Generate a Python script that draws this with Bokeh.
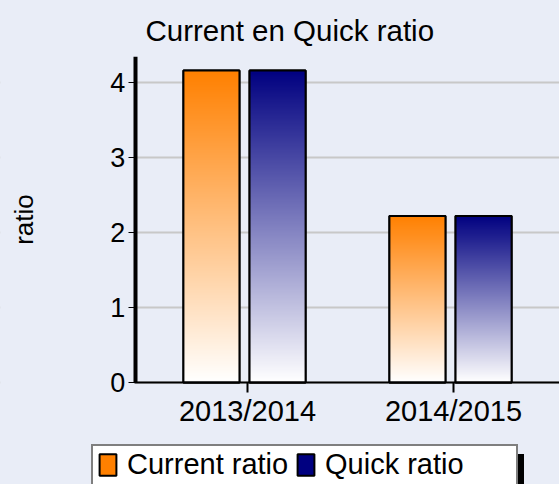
import numpy as np
from bokeh.plotting import figure
from bokeh.models import (Range1d, FixedTicker, Legend, LegendItem, BoxAnnotation,
                          GlobalInlineStyleSheet)
from bokeh.embed import file_html
from bokeh.resources import INLINE

# ---- data ----
periods = ["2013/2014", "2014/2015"]
current_ratio = [4.16, 2.22]
quick_ratio = [4.16, 2.22]
series_names = ["Current ratio", "Quick ratio"]
series_values = [current_ratio, quick_ratio]
series_colors = ["#ff8000", "#000080"]
y_ticks = [0, 1, 2, 3, 4]

BG = "#e9edf7"
FONT = "Liberation Sans"

# plot area layout (data units): axes are fixed inside a full-canvas frame
Y_TOP = 4.347
X_AXIS_START = -0.5485
X_END = 1.5146

p = figure(width=559, height=484, output_backend="svg", toolbar_location=None,
           x_range=Range1d(-1.199, X_END), y_range=Range1d(-1.36, Y_TOP),
           min_border_left=0, min_border_right=0, min_border_top=56, min_border_bottom=0,
           background_fill_color=BG, border_fill_color=BG, outline_line_color=None)
p.stylesheets = [GlobalInlineStyleSheet(css="html, body { background-color: %s; }" % BG)]

# title
p.title.text = "Current en Quick ratio"
p.title.text_font = FONT
p.title.text_font_size = "29.5px"
p.title.text_font_style = "normal"
p.title.text_color = "black"
p.title.align = "left"
p.title.offset = 145
p.title.standoff = 20

# grid (only right of the y axis)
p.xgrid.visible = False
p.ygrid.grid_line_color = "#c8c8c8"
p.ygrid.grid_line_width = 2
p.ygrid.ticker = FixedTicker(ticks=y_ticks)
p.add_layout(BoxAnnotation(right=X_AXIS_START + 0.004, fill_color=BG, fill_alpha=1,
                           line_color=None, level="underlay"))

# y axis
yax = p.yaxis[0]
yax.fixed_location = X_AXIS_START + 0.004
yax.bounds = (0, Y_TOP)
yax.ticker = FixedTicker(ticks=y_ticks)
yax.axis_line_width = 4
yax.axis_line_color = "black"
yax.major_tick_out = 7
yax.major_tick_in = 0
yax.minor_tick_line_color = None
yax.major_tick_line_color = "black"
yax.major_tick_line_width = 1
yax.major_label_text_font = FONT
yax.major_label_text_font_size = "27px"
yax.major_label_text_color = "black"
yax.major_label_standoff = 3
yax.axis_label = "ratio"
yax.axis_label_text_font = FONT
yax.axis_label_text_font_size = "26px"
yax.axis_label_text_font_style = "normal"
yax.axis_label_text_color = "black"
yax.axis_label_standoff = 68

# x axis
x_idx = np.arange(len(periods))
xax = p.xaxis[0]
xax.fixed_location = 0
xax.bounds = (X_AXIS_START, X_END)
xax.ticker = FixedTicker(ticks=list(x_idx))
xax.major_label_overrides = {int(i): name for i, name in zip(x_idx, periods)}
xax.axis_line_width = 2
xax.axis_line_color = "black"
xax.major_tick_out = 10
xax.major_tick_in = 0
xax.major_tick_line_width = 2
xax.minor_tick_line_color = None
xax.major_label_text_font = FONT
xax.major_label_text_font_size = "29px"
xax.major_label_text_color = "black"
xax.major_label_standoff = 2

# bars (gradient from colour at top to white at bottom)
offsets = [-0.175, 0.146]
bar_w = 0.272


def gradient(hexcol, n=256):
    c = np.array([int(hexcol[i:i + 2], 16) for i in (1, 3, 5)], dtype=float)
    t = np.linspace(0, 1, n)[:, None]
    rgb = 255 * (1 - t) + c[None, :] * t
    img = np.empty((n, 1), dtype=np.uint32)
    view = img.view(dtype=np.uint8).reshape((n, 1, 4))
    view[:, 0, 0:3] = np.round(rgb).astype(np.uint8)
    view[:, 0, 3] = 255
    return img


legend_renderers = []
bars = []
for name, vals, col, off in zip(series_names, series_values, series_colors, offsets):
    lefts = list(x_idx + off - bar_w / 2)
    rights = list(x_idx + off + bar_w / 2)
    r = p.quad(left=lefts, right=rights, bottom=0, top=vals, fill_color=col,
               line_color="black", line_width=2)
    legend_renderers.append(r)
    bars.append((lefts, rights, vals, col))

for lefts, rights, vals, col in bars:
    img = gradient(col)
    p.image_rgba(image=[img] * len(vals), x=lefts, y=[0] * len(vals),
                 dw=[bar_w] * len(vals), dh=vals)

blank = None
for lefts, rights, vals, col in bars:
    p.quad(left=lefts, right=rights, bottom=0, top=vals, fill_alpha=0,
           line_color="black", line_width=2)
    if blank is None:
        # invisible renderer used only for the legend's box and shadow
        blank = p.quad(left=lefts, right=rights, bottom=0, top=vals,
                       fill_alpha=0, line_alpha=0)

box_kw = dict(orientation="horizontal", label_text_font=FONT, label_text_font_size="10px",
              glyph_width=1, glyph_height=50, label_standoff=0, label_width=422,
              label_height=50, spacing=0, padding=0, margin=0)

# legend drop shadow
shadow = Legend(items=[LegendItem(label="", renderers=[blank])], location=(99, -22),
                label_text_color="black", border_line_color="black", border_line_width=1,
                background_fill_color="black", background_fill_alpha=1, **box_kw)
p.add_layout(shadow)

# legend box
frame = Legend(items=[LegendItem(label="", renderers=[blank])], location=(91, -14),
               label_text_color="white", border_line_color="black", border_line_width=2,
               background_fill_color="white", background_fill_alpha=1, **box_kw)
p.add_layout(frame)

# legend entries
legend = Legend(items=[LegendItem(label=n, renderers=[r]) for n, r in zip(series_names, legend_renderers)],
                location=(97, 3), orientation="horizontal",
                label_text_font=FONT, label_text_font_size="29px", label_text_color="black",
                glyph_width=21, glyph_height=27, label_standoff=9, label_width=168,
                label_height=33, spacing=0, padding=4, margin=0,
                border_line_color=None, background_fill_alpha=0)
p.add_layout(legend)

open("out.html", "w").write(file_html(p, INLINE))
